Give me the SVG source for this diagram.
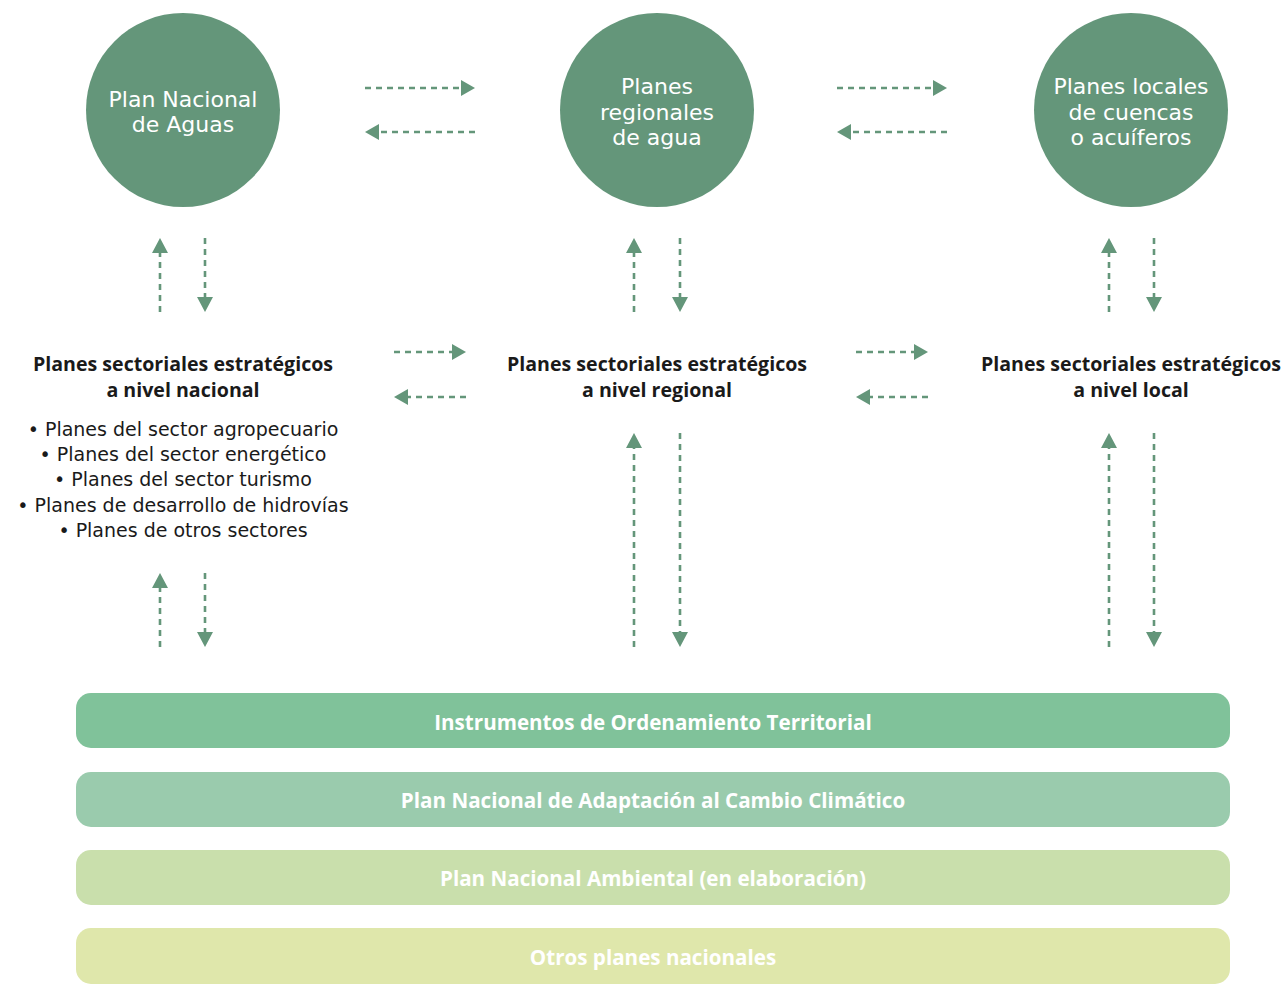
<svg xmlns="http://www.w3.org/2000/svg" width="1287" height="984" viewBox="0 0 1287 984">
<style>
.circ{fill:#64967a}
.ct{font-family:"DejaVu Sans","Open Sans",sans-serif;font-size:22px;fill:#fff;text-anchor:middle}
.hd{font-family:"Open Sans","DejaVu Sans",sans-serif;font-size:19.6px;font-weight:bold;fill:#1a1a1a;text-anchor:middle}
.li{font-family:"DejaVu Sans","Open Sans",sans-serif;font-size:19px;fill:#1a1a1a;text-anchor:middle}
.bt{font-family:"Open Sans","DejaVu Sans",sans-serif;font-size:20.6px;font-weight:bold;fill:#fff;text-anchor:middle}
.ln{stroke:#64967a;stroke-width:2.6;stroke-dasharray:6 5;fill:none}
.ah{fill:#64967a}
</style>
<rect width="1287" height="984" fill="#fff"/>
<g id="node-pna"><circle class="circ" cx="183" cy="110" r="97"/><text class="ct" x="183" y="107">Plan Nacional</text><text class="ct" x="183" y="132">de Aguas</text></g>
<g id="node-prega"><circle class="circ" cx="657" cy="110" r="97"/><text class="ct" x="657" y="94">Planes</text><text class="ct" x="657" y="119.5">regionales</text><text class="ct" x="657" y="145">de agua</text></g>
<g id="node-plc"><circle class="circ" cx="1131" cy="110" r="97"/><text class="ct" x="1131" y="94">Planes locales</text><text class="ct" x="1131" y="119.5">de cuencas</text><text class="ct" x="1131" y="145">o acuíferos</text></g>
<g id="node-psn"><text class="hd" x="183" y="371">Planes sectoriales estratégicos</text><text class="hd" x="183" y="397">a nivel nacional</text>
<text class="li" x="183" y="436">• Planes del sector agropecuario</text>
<text class="li" x="183" y="461">• Planes del sector energético</text>
<text class="li" x="183" y="486">• Planes del sector turismo</text>
<text class="li" x="183" y="512">• Planes de desarrollo de hidrovías</text>
<text class="li" x="183" y="537">• Planes de otros sectores</text></g>
<g id="node-psr"><text class="hd" x="657" y="371">Planes sectoriales estratégicos</text><text class="hd" x="657" y="397">a nivel regional</text></g>
<g id="node-psl"><text class="hd" x="1131" y="371">Planes sectoriales estratégicos</text><text class="hd" x="1131" y="397">a nivel local</text></g>
<g id="node-iot"><rect x="76" y="693" width="1154" height="55" rx="15" fill="#80c29a"/><text class="bt" x="653" y="730">Instrumentos de Ordenamiento Territorial</text></g>
<g id="node-pnacc"><rect x="76" y="772" width="1154" height="55" rx="15" fill="#9acbad"/><text class="bt" x="653" y="808">Plan Nacional de Adaptación al Cambio Climático</text></g>
<g id="node-pnam"><rect x="76" y="850" width="1154" height="55" rx="15" fill="#c9dfac"/><text class="bt" x="653" y="886">Plan Nacional Ambiental (en elaboración)</text></g>
<g id="node-opn"><rect x="76" y="928" width="1154" height="56" rx="15" fill="#dfe7ab"/><text class="bt" x="653" y="965">Otros planes nacionales</text></g>
<g id="connectors">
<line class="ln" x1="365" y1="88" x2="461" y2="88"/><polygon class="ah" points="461,80 475,88 461,96"/>
<line class="ln" x1="475" y1="132" x2="379" y2="132"/><polygon class="ah" points="379,124 365,132 379,140"/>
<line class="ln" x1="837" y1="88" x2="933" y2="88"/><polygon class="ah" points="933,80 947,88 933,96"/>
<line class="ln" x1="947" y1="132" x2="851" y2="132"/><polygon class="ah" points="851,124 837,132 851,140"/>
<line class="ln" x1="394" y1="352" x2="452" y2="352"/><polygon class="ah" points="452,344 466,352 452,360"/>
<line class="ln" x1="466" y1="397" x2="408" y2="397"/><polygon class="ah" points="408,389 394,397 408,405"/>
<line class="ln" x1="856" y1="352" x2="914" y2="352"/><polygon class="ah" points="914,344 928,352 914,360"/>
<line class="ln" x1="928" y1="397" x2="870" y2="397"/><polygon class="ah" points="870,389 856,397 870,405"/>
<line class="ln" x1="160" y1="312" x2="160" y2="252"/><polygon class="ah" points="152,253 160,238 168,253"/>
<line class="ln" x1="205" y1="238" x2="205" y2="298"/><polygon class="ah" points="197,297 205,312 213,297"/>
<line class="ln" x1="634" y1="312" x2="634" y2="252"/><polygon class="ah" points="626,253 634,238 642,253"/>
<line class="ln" x1="680" y1="238" x2="680" y2="298"/><polygon class="ah" points="672,297 680,312 688,297"/>
<line class="ln" x1="1109" y1="312" x2="1109" y2="252"/><polygon class="ah" points="1101,253 1109,238 1117,253"/>
<line class="ln" x1="1154" y1="238" x2="1154" y2="298"/><polygon class="ah" points="1146,297 1154,312 1162,297"/>
<line class="ln" x1="160" y1="647" x2="160" y2="587"/><polygon class="ah" points="152,588 160,573 168,588"/>
<line class="ln" x1="205" y1="573" x2="205" y2="633"/><polygon class="ah" points="197,632 205,647 213,632"/>
<line class="ln" x1="634" y1="647" x2="634" y2="447"/><polygon class="ah" points="626,448 634,433 642,448"/>
<line class="ln" x1="680" y1="433" x2="680" y2="633"/><polygon class="ah" points="672,632 680,647 688,632"/>
<line class="ln" x1="1109" y1="647" x2="1109" y2="447"/><polygon class="ah" points="1101,448 1109,433 1117,448"/>
<line class="ln" x1="1154" y1="433" x2="1154" y2="633"/><polygon class="ah" points="1146,632 1154,647 1162,632"/>
</g>
</svg>
